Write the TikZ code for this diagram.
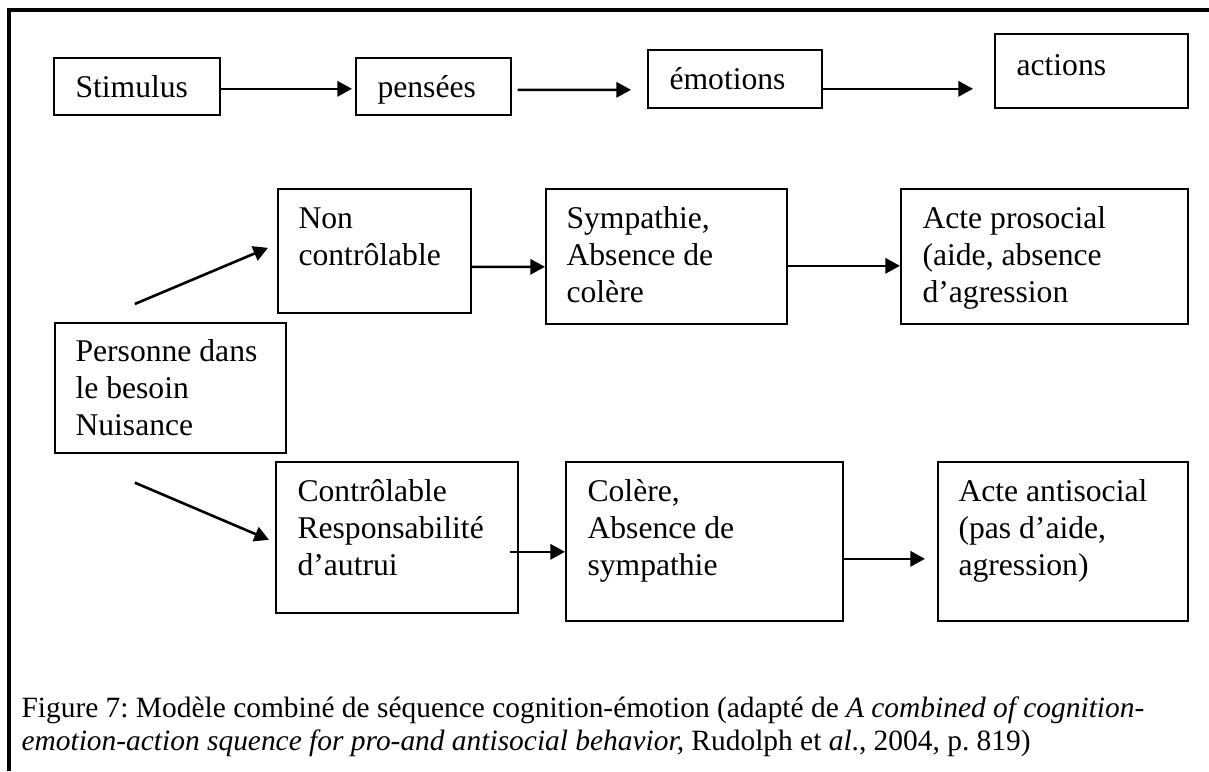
\documentclass[tikz,border=0pt]{standalone}
\usepackage{fontspec}
\setmainfont{Liberation Serif}
\usetikzlibrary{arrows.meta,positioning}
\newlength\pxl
\setlength\pxl{0.3636pt}
\frenchspacing

\begin{document}
\begin{tikzpicture}[x=0.3636pt, y=-0.3636pt,
    box/.style={draw, line width=0.6pt, anchor=north west, inner sep=0pt},
    txt/.style={anchor=base west, inner sep=0pt, align=left, font=\fontsize{11.5}{13.45}\selectfont},
    captxt/.style={anchor=base west, inner sep=0pt, align=left, font=\fontsize{10.7}{12}\selectfont},
    arr/.style={-{Triangle[length=5.3pt, width=5.5pt]}, line width=0.95pt}]
        \useasboundingbox (0,0) rectangle (1209,771);
        \draw[line width=1.3pt] (1209,10) -- (9,10) -- (9,771);

        \node[box, minimum width=166*\pxl, minimum height=57*\pxl] (stim) at (53,57) {};
        \node[txt] (stim-t) at (75,97) {Stimulus};
        \node[box, minimum width=155*\pxl, minimum height=57*\pxl] (pens) at (355,57) {};
        \node[txt] (pens-t) at (377,97) {pensées};
        \node[box, minimum width=174*\pxl, minimum height=58*\pxl] (emo) at (647,49) {};
        \node[txt] (emo-t) at (669,89) {émotions};
        \node[box, minimum width=193*\pxl, minimum height=74*\pxl] (act) at (994,33) {};
        \node[txt] (act-t) at (1016,75) {actions};

        \draw[arr] ([shift={(0,2.5)}]stim.east) -- ([shift={(-3,2.5)}]pens.west);
        \draw[arr] ([shift={(6,3.5)}]pens.east) -- ([shift={(-16,11)}]emo.west);
        \draw[arr] ([shift={(0,10)}]emo.east) -- ([shift={(-21,18)}]act.west);

        \node[box, minimum width=193*\pxl, minimum height=124*\pxl] (non) at (277,188) {};
        \node[txt] (non-t) at (298,265) {Non\\contrôlable};
        \node[box, minimum width=241*\pxl, minimum height=135*\pxl] (sym) at (545,188) {};
        \node[txt] (sym-t) at (566,302) {Sympathie,\\Absence de\\colère};
        \node[box, minimum width=287*\pxl, minimum height=135*\pxl] (pro) at (900,188) {};
        \node[txt] (pro-t) at (922,302) {Acte prosocial\\(aide, absence\\d’agression};

        \node[box, minimum width=231*\pxl, minimum height=130*\pxl] (pers) at (54,322) {};
        \node[txt] (pers-t) at (75,435) {Personne dans\\le besoin\\Nuisance};

        \node[box, minimum width=242*\pxl, minimum height=151*\pxl] (ctl) at (275,461) {};
        \node[txt] (ctl-t) at (297,575) {Contrôlable\\Responsabilité\\d’autrui};
        \node[box, minimum width=277*\pxl, minimum height=159*\pxl] (col) at (565,461) {};
        \node[txt] (col-t) at (587,575) {Colère,\\Absence de\\sympathie};
        \node[box, minimum width=250*\pxl, minimum height=159*\pxl] (anti) at (937,461) {};
        \node[txt] (anti-t) at (958,575) {Acte antisocial\\(pas d’aide,\\agression)};

        \draw[arr] ([shift={(-35.5,-18)}]pers.north) -- ([shift={(-9,-3)}]non.west);
        \draw[arr] ([shift={(-35.5,29)}]pers.south) -- ([shift={(-6,2.5)}]ctl.west);
        \draw[arr] ([shift={(0,16)}]non.east) -- ([shift={(0,10.5)}]sym.west);
        \draw[arr] ([shift={(0,9.5)}]sym.east) -- ([shift={(0,9.5)}]pro.west);
        \draw[arr] ([shift={(-9,14.5)}]ctl.east) -- ([shift={(0,10.5)}]col.west);
        \draw[arr] ([shift={(0,17.5)}]col.east) -- ([shift={(-12,17.5)}]anti.west);

        \node[captxt] (cap) at (21,750) {Figure 7: Modèle combiné de séquence cognition-émotion (adapté de \textit{A combined of cognition-}\\\textit{emotion-action squence for pro-and antisocial behavior,} Rudolph et \textit{al}., 2004, p. 819)};
\end{tikzpicture}
\end{document}
